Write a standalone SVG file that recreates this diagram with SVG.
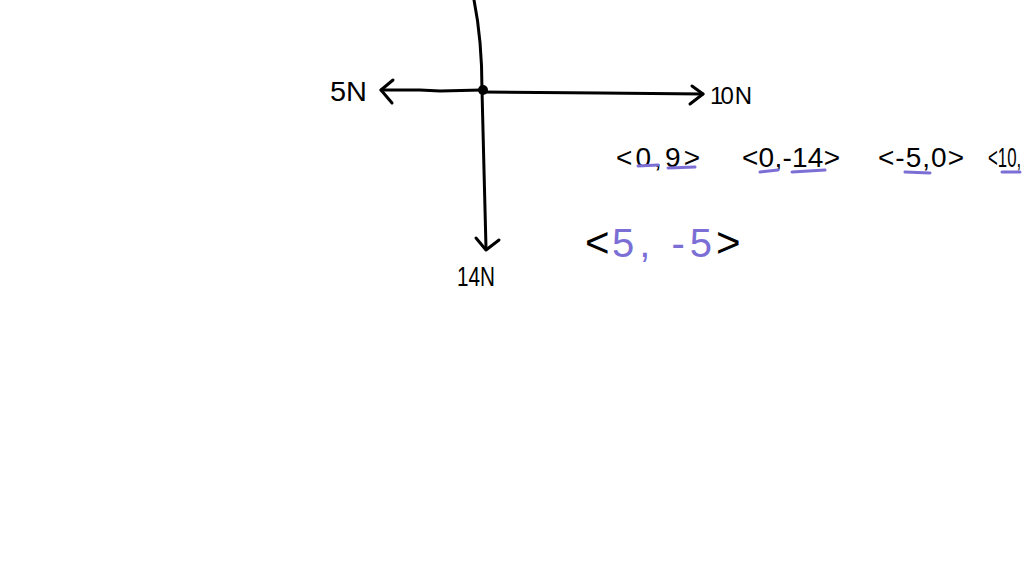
<svg xmlns="http://www.w3.org/2000/svg" width="1024" height="576" viewBox="0 0 1024 576">
<style>
.ink{fill:none;stroke:#000;stroke-width:3;stroke-linecap:round;stroke-linejoin:round}
.ul{fill:none;stroke:#7b6fd6;stroke-width:3;stroke-linecap:round}
.t{font-family:"Liberation Sans",Arial,sans-serif;fill:#000}
.p{fill:#7b6fd6}
</style>
<rect width="1024" height="576" fill="#fff"/>
<g id="connectors">
<path class="ink" d="M474,0 C479,25 482,60 482,90 L484,170 L486,248"/>
<path class="ink" d="M476,238 L486,250 L499,240"/>
<path class="ink" d="M482,90 L440,91 L420,90 L381,90"/>
<path class="ink" d="M393,80 L381,90 L392,103"/>
<path class="ink" d="M482,92 L600,93 L703,94"/>
<path class="ink" d="M692,86 L703,94 L690,104"/>
</g>
<g id="origin"><circle cx="483" cy="90" r="5" fill="#000"/></g>
<g id="label-5N"><text class="t" x="330" y="101" font-size="28" textLength="37" lengthAdjust="spacingAndGlyphs">5N</text></g>
<g id="label-10N"><text class="t" x="710" y="104" font-size="24" textLength="42" lengthAdjust="spacing">10 N</text></g>
<g id="label-14N"><text class="t" x="457" y="286" font-size="28" textLength="38" lengthAdjust="spacingAndGlyphs">14N</text></g>
<g id="vectors">
<text class="t" x="616" y="167" font-size="28" textLength="84" lengthAdjust="spacing">&lt;0,9&gt;</text>
<text class="t" x="742" y="167" font-size="28" textLength="98" lengthAdjust="spacing">&lt;0,-14&gt;</text>
<text class="t" x="878" y="167" font-size="28" textLength="86" lengthAdjust="spacing">&lt;-5,0&gt;</text>
<text class="t" transform="translate(988,167) scale(0.6,1)" x="0" y="0" font-size="28">&lt;10,</text>
<path class="ul" d="M638,166 L658,165"/>
<path class="ul" d="M668,168 L695,167"/>
<path class="ul" d="M760,172 L778,170"/>
<path class="ul" d="M792,172 L825,170"/>
<path class="ul" d="M905,172 L930,173"/>
<path class="ul" d="M1002,172 L1020,172"/>
</g>
<g id="result">
<text class="t" x="585" y="257" font-size="42">&lt;</text>
<text class="t p" x="612" y="257" font-size="40" textLength="100" lengthAdjust="spacing">5, -5</text>
<text class="t" x="716" y="257" font-size="42">&gt;</text>
</g>
</svg>
